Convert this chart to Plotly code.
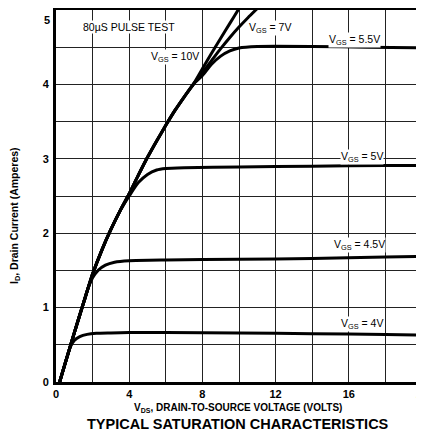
import plotly.graph_objects as go

# Drain voltage (V) / drain current (A)
vds_4 = [0.2, 0.5, 0.8, 1.0, 1.3, 1.7, 2.2, 3.0, 4.0, 6.0, 10.0, 14.0, 18.0, 20.0]
id_4 = [0.0, 0.25, 0.48, 0.56, 0.61, 0.64, 0.655, 0.66, 0.665, 0.665, 0.66, 0.65, 0.64, 0.63]

vds_45 = [0.2, 0.5, 1.0, 1.5, 1.8, 2.0, 2.3, 2.7, 3.2, 4.0, 6.0, 10.0, 14.0, 18.0, 20.0]
id_45 = [0.0, 0.25, 0.66, 1.06, 1.29, 1.40, 1.50, 1.57, 1.61, 1.63, 1.64, 1.65, 1.66, 1.68, 1.69]

vds_5 = [0.2, 0.5, 1.0, 1.5, 2.0, 2.5, 3.0, 3.5, 4.0, 4.5, 5.0, 5.5, 6.0, 7.0, 10.0, 14.0, 18.0, 20.0]
id_5 = [0.0, 0.25, 0.66, 1.06, 1.45, 1.77, 2.05, 2.30, 2.50, 2.68, 2.79, 2.85, 2.87, 2.88, 2.89, 2.90, 2.91, 2.91]

vds_lin = [0.2, 0.5, 1.0, 1.5, 2.0, 2.5, 3.0, 3.5, 4.0, 4.5, 5.0, 5.5, 6.0, 6.5, 7.0, 7.5]
id_lin = [0.0, 0.25, 0.66, 1.06, 1.45, 1.77, 2.05, 2.30, 2.53, 2.78, 3.02, 3.24, 3.45, 3.65, 3.83, 4.00]

vds_55 = vds_lin + [8.0, 8.5, 9.0, 9.5, 10.0, 11.0, 14.0, 17.0, 20.0]
id_55 = id_lin + [4.12, 4.27, 4.38, 4.45, 4.49, 4.51, 4.51, 4.50, 4.49]

vds_7 = vds_lin + [8.0, 8.5, 9.0, 9.5, 10.0, 10.5, 11.0, 11.5]
id_7 = id_lin + [4.16, 4.32, 4.48, 4.63, 4.77, 4.90, 5.02, 5.14]

vds_10 = vds_lin + [8.0, 8.5, 9.0, 9.5, 10.0, 10.5]
id_10 = id_lin + [4.21, 4.42, 4.62, 4.82, 5.02, 5.22]

curves = [(vds_4, id_4), (vds_45, id_45), (vds_5, id_5), (vds_55, id_55), (vds_7, id_7), (vds_10, id_10)]

# Labels: (text, vds, id)
labels = [
    ("80µS PULSE TEST", 4.0, 4.77),
    ("V<sub>GS</sub> = 10V", 6.5, 4.37),
    ("V<sub>GS</sub> = 7V", 11.7, 4.76),
    ("V<sub>GS</sub> = 5.5V", 16.3, 4.60),
    ("V<sub>GS</sub> = 5V", 16.7, 3.02),
    ("V<sub>GS</sub> = 4.5V", 16.6, 1.84),
    ("V<sub>GS</sub> = 4V", 16.7, 0.78),
]

x_ticks = [0, 4, 8, 12, 16, 20]
y_ticks = [0, 1, 2, 3, 4]
y_top_tick = 5

FONT = "Arial, Liberation Sans, sans-serif"

fig = go.Figure()
for vx, iy in curves:
    fig.add_trace(go.Scatter(x=vx, y=iy, mode="lines",
                             line=dict(color="black", width=3, shape="spline", smoothing=0.6),
                             showlegend=False, hoverinfo="skip"))

for txt, x, y in labels:
    fig.add_annotation(x=x, y=y, text=txt, showarrow=False, bgcolor="white",
                       font=dict(family=FONT, size=10.5, color="black"), borderpad=0)

# page body has an 8px margin: the plot area should land at x 56..422, y 10..382 in the window
OFF = 8
W, H = 424 - OFF, 435 - OFF
ml, mt = 56 - OFF, 10 - OFF
pw, ph = 366, 372
mr = W - ml - pw
mb = H - mt - ph

# top "5" label sits just under the frame in the reference
fig.add_annotation(xref="paper", y=y_top_tick, yref="y", x=0, xanchor="right", yanchor="top",
                   xshift=-4, yshift=-2, text=f"<b>{y_top_tick}</b>", showarrow=False,
                   font=dict(family=FONT, size=11, color="black"))

fig.add_annotation(xref="paper", yref="paper", x=-(56 - 15) / pw, y=0.5, yshift=-20,
                   xanchor="center", yanchor="middle",
                   text="<b>I<sub>D</sub>, Drain Current (Amperes)</b>", textangle=-90, showarrow=False,
                   font=dict(family=FONT, size=10.5, color="black"))
fig.add_annotation(xref="paper", yref="paper", x=(238 - 56) / pw, y=-(408 - 382) / ph,
                   xanchor="center", yanchor="middle",
                   text="<b>V<sub>DS</sub>, DRAIN-TO-SOURCE VOLTAGE (VOLTS)</b>", showarrow=False,
                   font=dict(family=FONT, size=10, color="black"))
fig.add_annotation(xref="paper", yref="paper", x=(238 - 56) / pw, y=-(424 - 382) / ph,
                   xanchor="center", yanchor="middle",
                   text="<b>TYPICAL SATURATION CHARACTERISTICS</b>", showarrow=False,
                   font=dict(family=FONT, size=14.5, color="black"))

fig.update_layout(
    width=W, height=H, margin=dict(l=ml, r=mr, t=mt, b=mb, autoexpand=False),
    paper_bgcolor="white", plot_bgcolor="white",
    font=dict(family=FONT, color="black"),
    xaxis=dict(range=[0, 20], tickvals=x_ticks, ticktext=[f"<b>{v}</b>" for v in x_ticks],
               showgrid=True, gridcolor="#222", gridwidth=1,
               minor=dict(dtick=2, showgrid=True, gridcolor="#222", gridwidth=1),
               showline=True, linecolor="black", linewidth=3, mirror=True,
               ticks="", tickfont=dict(size=11), zeroline=False, ticklabelstandoff=0,
               ticklabeloverflow="allow", automargin=False),
    yaxis=dict(range=[0, 5], tickvals=y_ticks, ticktext=[f"<b>{v}</b>" for v in y_ticks],
               showgrid=True, gridcolor="#222", gridwidth=1,
               minor=dict(dtick=0.5, showgrid=True, gridcolor="#222", gridwidth=1),
               showline=True, linecolor="black", linewidth=3, mirror=True,
               ticks="", tickfont=dict(size=11), zeroline=False, ticklabelstandoff=2,
               ticklabeloverflow="allow", automargin=False),
)

fig.write_html("out.html")
